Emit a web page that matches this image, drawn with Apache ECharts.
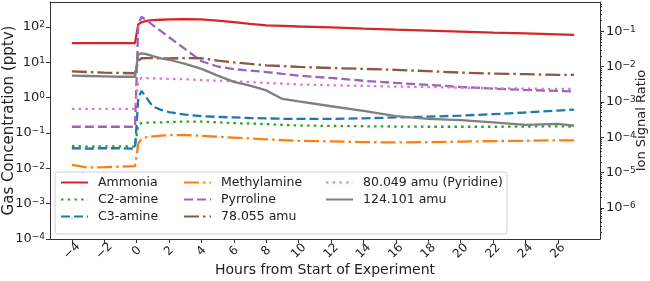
<!DOCTYPE html>
<html>
<head>
<meta charset="utf-8">
<script src="https://cdn.jsdelivr.net/npm/echarts@6/dist/echarts.min.js"></script>
<style>
  html, body { margin: 0; padding: 0; background: #fff; }
  #chart { width: 650px; height: 281px; }
</style>
</head>
<body>
<div id="chart"></div>
<script>
// hours from start of experiment
var hours = [-4, -3, -2, -1, -0.1, 0.1, 0.3, 0.6, 1, 1.5, 2, 3, 4, 5, 6, 7, 8, 9, 10, 12, 14, 16, 18, 20, 22, 24, 26, 27];
// gas concentrations (pptv)
var ammonia     = [35, 35, 35, 35, 35, 120, 135, 148, 155, 160, 163, 165, 163, 150, 137, 122, 111, 107, 103, 97, 90, 84, 79, 74, 69, 66, 62, 60];
var c2amine     = [0.043, 0.041, 0.042, 0.042, 0.041, 0.17, 0.19, 0.195, 0.2, 0.2, 0.205, 0.21, 0.21, 0.2, 0.19, 0.185, 0.178, 0.17, 0.163, 0.158, 0.155, 0.152, 0.15, 0.15, 0.15, 0.152, 0.155, 0.15];
var c3amine     = [0.037, 0.036, 0.037, 0.037, 0.036, 1.0, 1.55, 1.0, 0.56, 0.45, 0.39, 0.33, 0.30, 0.285, 0.275, 0.265, 0.258, 0.252, 0.25, 0.25, 0.26, 0.275, 0.29, 0.31, 0.34, 0.38, 0.43, 0.46];
var methylamine = [0.0125, 0.0105, 0.0108, 0.0112, 0.0115, 0.05, 0.068, 0.076, 0.08, 0.084, 0.087, 0.088, 0.083, 0.078, 0.074, 0.07, 0.066, 0.063, 0.06, 0.058, 0.055, 0.054, 0.055, 0.057, 0.059, 0.06, 0.062, 0.062];
var pyrroline   = [0.15, 0.15, 0.15, 0.15, 0.15, 120, 195, 155, 113, 76, 51, 23.5, 10.7, 7.6, 6.4, 5.8, 5.3, 4.7, 4.2, 3.6, 3.0, 2.6, 2.3, 2.0, 1.8, 1.65, 1.55, 1.5];
var amu78       = [5.5, 5.3, 5.1, 5.0, 4.9, 11, 13, 13.2, 13.2, 12.8, 12.8, 13.2, 13, 11.2, 9.9, 9, 8.2, 7.8, 7.4, 6.9, 6.5, 6.1, 5.6, 5.1, 4.8, 4.6, 4.4, 4.4];
var amu80       = [0.48, 0.48, 0.48, 0.48, 0.48, 3.0, 3.6, 3.55, 3.5, 3.45, 3.4, 3.3, 3.15, 3.0, 2.9, 2.75, 2.6, 2.5, 2.35, 2.25, 2.15, 2.05, 2.0, 1.92, 1.85, 1.8, 1.76, 1.76];
var amu124      = [4.2, 4.1, 4.0, 3.9, 3.9, 17, 18, 17, 15, 13, 11.8, 9, 6.5, 4.2, 2.8, 2.2, 1.6, 0.92, 0.78, 0.57, 0.42, 0.3, 0.25, 0.23, 0.2, 0.17, 0.18, 0.16];

// tick labels
var xTicks = [-4, -2, 0, 2, 4, 6, 8, 10, 12, 14, 16, 18, 20, 22, 24, 26];
var leftExps = [-4, -3, -2, -1, 0, 1, 2];
var rightExps = [-6, -5, -4, -3, -2, -1];

(function() {
  var myChart = echarts.init(document.getElementById('chart'));
  var font = 'DejaVu Sans';
  var lw = 2.3;
  var edge = { show: true, onZero: false, lineStyle: { color: '#333', width: 1 } };

  function pairs(vals) {
    return hours.map(function(h, i) { return [h, Math.log10(vals[i])]; });
  }
  function powLabel(v) {
    var e = Math.round(v);
    var s = e < 0 ? '\u2212' + (-e) : '' + e;
    return '{b|10}{s|' + s + '}';
  }
  var powRich = {
    b: { fontSize: 13, color: '#222', fontFamily: font },
    s: { fontSize: 9, color: '#222', fontFamily: font, verticalAlign: 'top' }
  };
  // right axis minor ticks (log)
  var minor = [];
  for (var n = -7; n <= -1; n++) {
    for (var k = 2; k <= 9; k++) {
      var v = n + Math.log10(k);
      if (v > -6.876 && v < -0.17) minor.push(v);
    }
  }

  function line(name, vals, color, type) {
    return {
      name: name,
      type: 'line',
      data: pairs(vals),
      symbol: 'none',
      lineStyle: { color: color, width: lw, type: type },
      itemStyle: { color: color, opacity: 0 },
      z: 2
    };
  }
  var dash = [9, 4], dot = [2.5, 4.2], dashdot = [15, 4, 2.5, 4];

  function legendCol(left, names) {
    return {
      data: names,
      orient: 'vertical',
      left: left,
      top: 176,
      padding: 0,
      itemWidth: 27,
      itemHeight: 14,
      itemGap: 4,
      z: 20,
      itemStyle: { opacity: 0 },
      textStyle: { fontSize: 12.5, color: '#222', fontFamily: font, padding: [0, 0, 0, 5] }
    };
  }

  var option = {
    animation: false,
    grid: {
      left: 50, right: 50, top: 2, bottom: 42,
      outerBoundsMode: 'none'
    },
    legend: [
      legendCol(60, ['Ammonia', 'C2-amine', 'C3-amine']),
      legendCol(183, ['Methylamine', 'Pyrroline', '78.055 amu']),
      legendCol(325, ['80.049 amu (Pyridine)', '124.101 amu'])
    ],
    graphic: [{
      type: 'rect',
      z: 10,
      shape: { x: 55, y: 172, width: 452, height: 62, r: 3 },
      style: { fill: 'rgba(255,255,255,0.85)', stroke: '#d0d0d0', lineWidth: 1 }
    }],
    xAxis: [
      {
        type: 'value',
        min: -5.35, max: 28.6,
        position: 'bottom',
        name: 'Hours from Start of Experiment',
        nameLocation: 'middle',
        nameGap: 24,
        nameMoveOverlap: false,
        nameTextStyle: { fontSize: 14, color: '#222', fontFamily: font },
        axisLine: edge,
        splitLine: { show: false },
        axisTick: { show: true, customValues: xTicks, length: 4, lineStyle: { color: '#333' } },
        axisLabel: {
          customValues: xTicks,
          rotate: 45,
          margin: 12,
          align: 'center',
          verticalAlign: 'middle',
          fontSize: 12, color: '#222', fontFamily: font,
          formatter: function(v) { return v < 0 ? '\u2212' + (-v) : '' + v; }
        }
      },
      {
        type: 'value',
        min: -5.35, max: 28.6,
        position: 'top',
        axisLine: edge,
        splitLine: { show: false },
        axisTick: { show: false },
        axisLabel: { show: false }
      }
    ],
    yAxis: [
      {
        type: 'value',
        min: -4, max: 2.706,
        position: 'left',
        name: 'Gas Concentration (pptv)',
        nameLocation: 'middle',
        nameRotate: 90,
        nameGap: 33,
        nameMoveOverlap: false,
        nameTextStyle: { fontSize: 15, color: '#222', fontFamily: font },
        axisLine: edge,
        splitLine: { show: false },
        axisTick: { show: true, customValues: leftExps, length: 4, lineStyle: { color: '#333' } },
        axisLabel: { customValues: leftExps, margin: 5, formatter: powLabel, rich: powRich }
      },
      {
        type: 'value',
        min: -6.876, max: -0.17,
        position: 'right',
        name: 'Ion Signal Ratio',
        nameLocation: 'middle',
        nameRotate: 90,
        nameGap: 35,
        nameMoveOverlap: false,
        nameTextStyle: { fontSize: 13, color: '#222', fontFamily: font },
        axisLine: edge,
        splitLine: { show: false },
        axisTick: { show: true, customValues: rightExps, length: 4, lineStyle: { color: '#333' } },
        axisLabel: { customValues: rightExps, margin: 6, formatter: powLabel, rich: powRich }
      },
      {
        type: 'value',
        min: -6.876, max: -0.17,
        position: 'right',
        axisLine: { show: false, onZero: false },
        splitLine: { show: false },
        axisLabel: { show: false },
        axisTick: { show: true, customValues: minor, length: 2, lineStyle: { color: '#333' } }
      }
    ],
    series: [
      line('Ammonia', ammonia, '#d62728', 'solid'),
      line('C2-amine', c2amine, '#2ca02c', dot),
      line('C3-amine', c3amine, '#1f77b4', dash),
      line('Methylamine', methylamine, '#ff7f0e', dashdot),
      line('Pyrroline', pyrroline, '#9467bd', dash),
      line('78.055 amu', amu78, '#8c564b', dashdot),
      line('80.049 amu (Pyridine)', amu80, '#e377c2', dot),
      line('124.101 amu', amu124, '#7f7f7f', 'solid')
    ]
  };
  myChart.setOption(option);
  window.addEventListener('resize', function() {
    myChart.resize();
  });
})();
</script>
</body>
</html>
